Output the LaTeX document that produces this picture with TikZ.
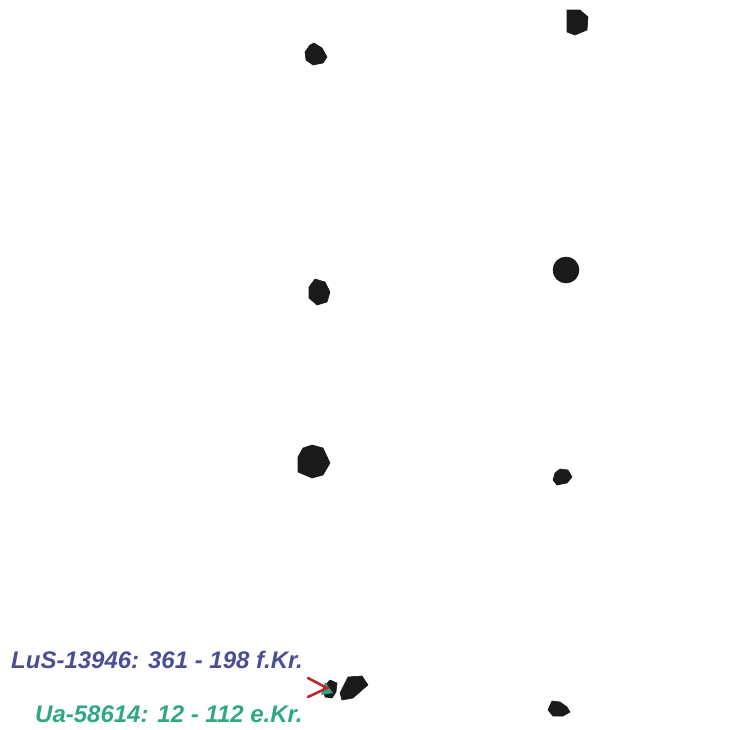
\documentclass[tikz,border=0pt]{standalone}
\usepackage{fontspec}
\setmainfont{Liberation Sans}
\definecolor{lusblue}{HTML}{4B4E96}
\definecolor{uateal}{HTML}{2EA884}
\definecolor{stone}{HTML}{1A1A1A}
\definecolor{arrowred}{HTML}{C0272D}
\begin{document}
\begin{tikzpicture}[x=1pt,y=-1pt,
  blob/.style={fill=stone,draw=stone,line width=0.6pt,line join=round},
  lbl/.style={anchor=base west,inner sep=0pt,font=\fontsize{24}{28}\selectfont\bfseries\itshape}]
\useasboundingbox (0,0) rectangle (736,729);
% stones
\draw[blob] (314,43) -- (322,48) -- (327,57) -- (323,63) -- (313,65) -- (306,60) -- (305,52) -- (310,45) -- cycle;
\draw[blob] (567,10) -- (580,10) -- (588,17) -- (587,30) -- (575,35) -- (567,32) -- cycle;
\draw[blob] (315,279) -- (325,282) -- (330,292) -- (327,302) -- (317,305) -- (309,298) -- (309,287) -- cycle;
\draw[blob] (566,270) circle[radius=13];
\draw[blob] (312,445) -- (323,448) -- (330,463) -- (323,475) -- (312,478) -- (298,472) -- (298,457) -- (303,448) -- cycle;
\draw[blob] (560,469) -- (568,470) -- (572,477) -- (567,483) -- (557,485) -- (553,480) -- (555,473) -- cycle;
\draw[blob] (552,701) -- (560,702) -- (567,707) -- (570,712) -- (563,716) -- (553,716) -- (548,710) -- cycle;
\draw[blob] (348,677) -- (362,676) -- (368,685) -- (362,690) -- (353,698) -- (342,700) -- (340,693) -- (345,683) -- cycle;
\draw[blob] (330,680) -- (337,683) -- (336,692) -- (332,698) -- (325,697) -- (323,688) -- cycle;
\fill[uateal] (325,682) -- (333,693) -- (321,695) -- cycle;
\draw[arrowred,line width=2.6pt,line cap=round,line join=miter] (308,678) -- (327,688) -- (308,697);
% labels
\node[lbl,text=lusblue] (lus) at (11,668) {LuS-13946: 361 - 198 f.Kr.};
\node[lbl,text=uateal] (ua) at (35,722) {Ua-58614: 12 - 112 e.Kr.};
\end{tikzpicture}
\end{document}
